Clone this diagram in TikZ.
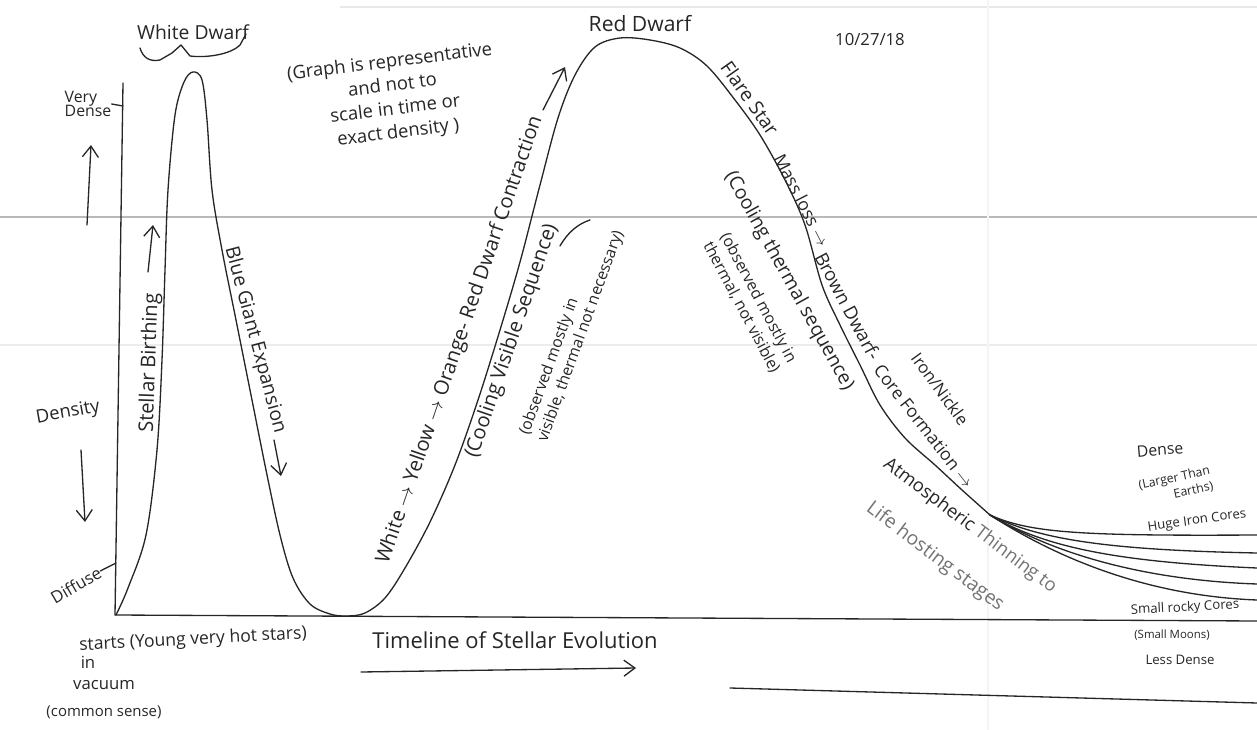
\documentclass[tikz,border=0pt]{standalone}
\usepackage{fontspec}
\setmainfont{Open Sans}
\usetikzlibrary{arrows.meta}

\begin{document}
\begin{tikzpicture}[x=0.2mm, y=-0.2mm,
pen/.style={line width=0.75pt, line cap=round, line join=round, black!85},
lbl/.style={inner sep=0pt, text=black!85, align=center, font=\fontsize{#1}{#1}\selectfont},
note/.style={inner sep=0pt, text=black!85, align=left, font=\fontsize{#1}{#1}\selectfont},
handarrow/.style={pen, -{Straight Barb[length=2.2mm, width=3.2mm]}},
paper/.style={line width=0.6pt}
]
\useasboundingbox (0,0) rectangle (1257,730);

% paper lines of the scan
\draw[paper, gray!55] (0,217) -- (1257,217);
\draw[paper, gray!15] (0,345) -- (1257,345);
\draw[paper, gray!18] (340,7) -- (1257,7);
\draw[paper, gray!8] (988,0) -- (988,730);

% axes
\coordinate (origin) at (115,615);
\coordinate (ytop) at (123,83);
\coordinate (xend) at (1257,621);
\draw[pen] (ytop) -- (origin) -- (xend);

% density curve
\draw[pen] plot[smooth, tension=0.55] coordinates {
(116,615) (128,588) (146,535) (157,450) (162,360) (165,270) (168,190)
(175,115) (184,82) (193,72) (202,80) (207,120) (212,190) (222,250)
(236,320) (252,400) (266,470) (280,535) (293,578) (310,604) (330,614)
(347,616) (365,613) (385,598) (405,568) (430,522) (455,465) (478,400)
(500,330) (520,262) (540,185) (558,118) (575,75) (595,47) (620,38)
(650,40) (680,48) (707,66) (735,100) (760,135) (785,180) (805,225)
(822,285) (840,325) (860,365) (880,405) (905,438) (935,465) (962,490)
(990,515)};

% planet cores fanning out
\coordinate (fork) at (990,515);
\coordinate (core1) at (1257,535);
\coordinate (core2) at (1257,553);
\coordinate (core3) at (1257,568);
\coordinate (core4) at (1257,584);
\coordinate (core5) at (1257,600);
\draw[pen] (fork) .. controls (1030,533) and (1080,536) .. (core1);
\draw[pen] (fork) .. controls (1040,540) and (1110,550) .. (core2);
\draw[pen] (fork) .. controls (1045,548) and (1120,562) .. (core3);
\draw[pen] (fork) .. controls (1050,552) and (1140,580) .. (core4);
\draw[pen] (fork) .. controls (1060,560) and (1150,596) .. (core5);

% axis labels
\node[lbl=9, align=left] (verydense) at (88,104) {Very\\[-1pt]Dense};
\draw[pen] (verydense.east) -- (ytop |- 0,106);
\coordinate (upfrom) at (87,225);
\coordinate (upto) at (91,145);
\draw[handarrow] (upfrom) -- (upto);
\node[lbl=10.5, rotate=10] (density) at (68,413) {Density};
\coordinate (downfrom) at (81,450);
\coordinate (downto) at (85,522);
\draw[handarrow] (downfrom) -- (downto);
\node[lbl=9.5, rotate=30] (diffuse) at (76,585) {Diffuse};
\draw[pen] (diffuse.east) -- (116,563);

% labels along the curve
\node[lbl=11] (wdwarf) at (193,32) {White Dwarf};
\draw[pen] (140,48) .. controls (143,58) and (150,62) .. (160,60) -- (172,53)
  -- (181,45) -- (190,56) .. controls (205,58) and (230,55) .. (240,45) -- (246,34);
\node[lbl=11.5, rotate=88] (birthing) at (150,363) {Stellar Birthing};
\coordinate (birthfrom) at (148,272);
\coordinate (birthto) at (153,225);
\draw[handarrow] (birthfrom) -- (birthto);
\node[lbl=11, rotate=-75] (bluegiant) at (255,340) {Blue Giant Expansion};
\coordinate (bluefrom) at (274,440);
\coordinate (blueto) at (281,476);
\draw[handarrow] (bluefrom) -- (blueto);

\node[lbl=11.5, rotate=71] (contraction) at (460,340)
  {White $\rightarrow$ Yellow $\rightarrow$ Orange- Red Dwarf Contraction};
\coordinate (contrfrom) at (543,110);
\coordinate (contrto) at (565,67);
\draw[handarrow] (contrfrom) -- (contrto);
\node[lbl=11.5, rotate=71] (visible) at (512,341) {(Cooling Visible Sequence)};
\node[note=9, rotate=70] (obsvisible) at (572,333)
  {(observed mostly in\\[2pt]visible, thermal not necessary)};
\draw[pen] (560,246) .. controls (568,232) and (578,224) .. (590,220);

\node[lbl=12] (rdwarf) at (640,24) {Red Dwarf};
\node[lbl=9.5] (date) at (870,40) {10/27/18};
\node[note=10.5, align=center, rotate=7] (graphnote) at (394,98)
  {(Graph is representative\\[3pt]and not to\\[3pt]scale in time or\\[3pt]exact density )};

\node[lbl=11, rotate=-55] (flare) at (750,98) {Flare Star};
\node[lbl=10, rotate=-63] (massloss) at (802,200) {Mass loss $\rightarrow$};
\node[lbl=10.5, rotate=-62] (brown) at (848,306) {Brown Dwarf-};
\node[lbl=10, rotate=-52] (coreform) at (924,426) {Core Formation $\rightarrow$};
\node[lbl=9.5, rotate=-54] (iron) at (940,389) {Iron/Nickle};
\node[lbl=11, rotate=-61] (thermal) at (789,281) {(Cooling thermal sequence)};
\node[note=9, rotate=-62] (obsthermal) at (750,303)
  {(observed mostly in\\[2pt]thermal, not visible)};
\node[lbl=10.5, rotate=-37] (atmos) at (970,526)
  {Atmospheric \textcolor{black!55}{Thinning to}};
\node[lbl=11, rotate=-37, text=black!55] (life) at (935,557) {Life hosting stages};

% right end labels
\node[lbl=9, rotate=5] (dense) at (1160,450) {Dense};
\node[inner sep=0pt, text=black!85, align=right, rotate=12,
  font=\fontsize{7}{9}\selectfont] (larger) at (1176,486) {(Larger Than\\Earths)};
\node[lbl=7.5, rotate=8] (huge) at (1197,521) {Huge Iron Cores};
\node[lbl=7.5, rotate=3] (rocky) at (1185,608) {Small rocky Cores};
\node[lbl=6.5] (moons) at (1172,635) {(Small Moons)};
\node[lbl=7.5] (lessdense) at (1180,660) {Less Dense};

% bottom labels
\node[lbl=10, rotate=3] (starts) at (193,640) {starts (Young very hot stars)};
\node[lbl=9.5] (in) at (88,662) {in};
\node[lbl=9.5] (vacuum) at (104,685) {vacuum};
\node[lbl=8.5] (common) at (104,712) {(common sense)};
\node[lbl=12.5] (timeline) at (515,640) {Timeline of Stellar Evolution};
\coordinate (timefrom) at (361,672);
\coordinate (timeto) at (636,668);
\draw[handarrow] (timefrom) -- (timeto);
\coordinate (lowfrom) at (730,688);
\coordinate (lowto) at (1257,703);
\draw[pen] (lowfrom) -- (lowto);

\end{tikzpicture}
\end{document}
